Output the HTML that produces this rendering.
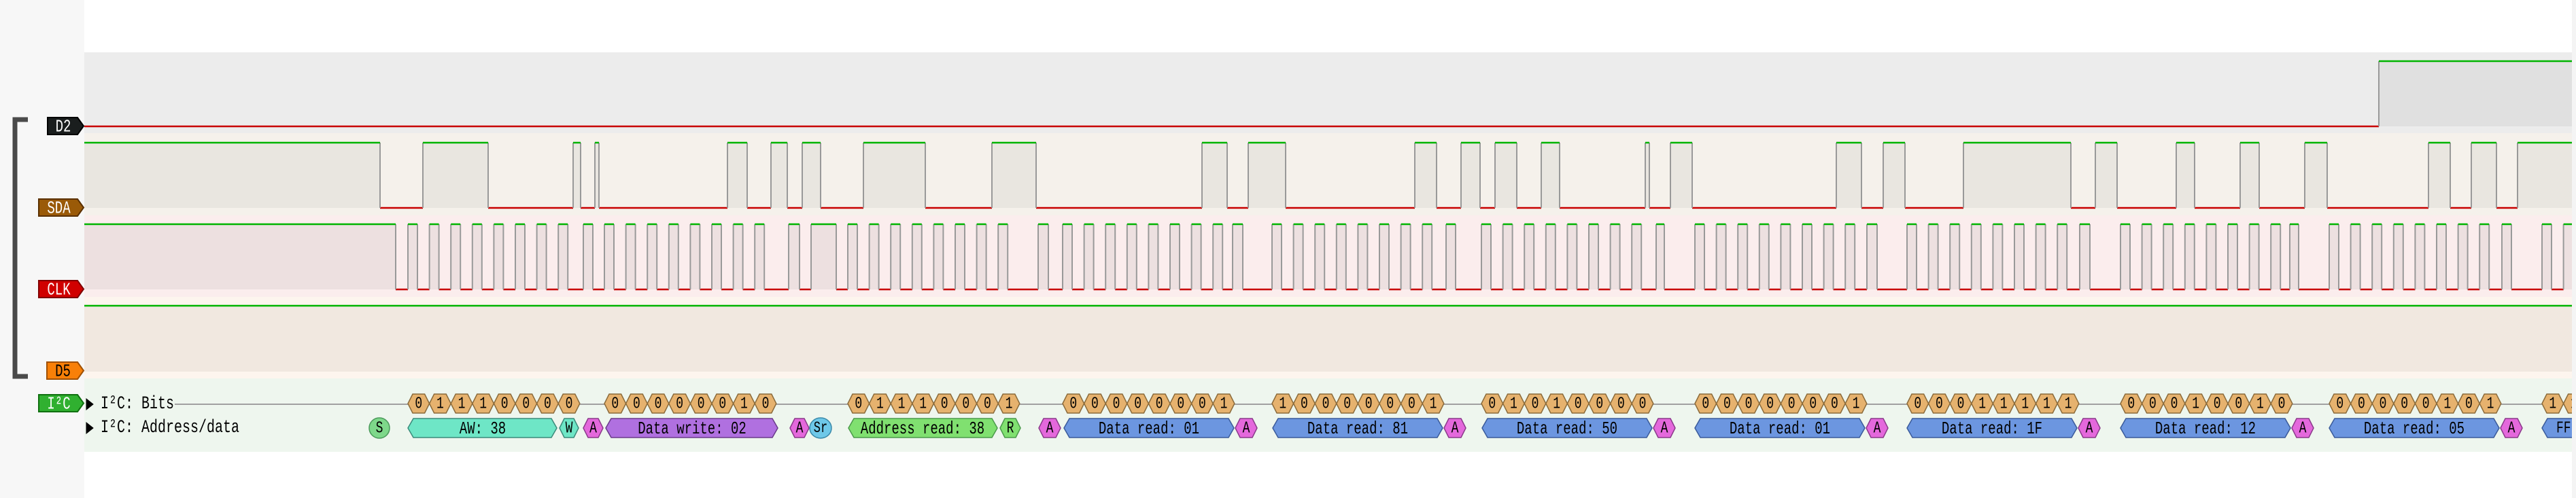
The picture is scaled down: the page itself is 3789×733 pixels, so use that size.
<!DOCTYPE html>
<html><head><meta charset="utf-8"><style>
html,body{margin:0;padding:0;background:#fff;}
svg{display:block;}
</style></head><body>
<div id="root"></div>
<script>
var W=3789,H=733,X0=124,X1=3783;
var s=[];
function r(x,y,w,h,f){s.push('<rect x="'+x+'" y="'+y+'" width="'+w+'" height="'+h+'" fill="'+f+'"/>');}
function ln(x1,y1,x2,y2,c,w){s.push('<line x1="'+x1+'" y1="'+y1+'" x2="'+x2+'" y2="'+y2+'" stroke="'+c+'" stroke-width="'+w+'"/>');}
function poly(p,f,st,sw){s.push('<polygon points="'+p.map(function(a){return a[0].toFixed(1)+','+a[1].toFixed(1)}).join(' ')+'" fill="'+f+'" stroke="'+st+'" stroke-width="'+(sw||1.5)+'"/>');}
var SY=1.35;
function txt(x,y,t,size,col,fam,anchor){s.push('<text transform="scale(1,'+SY+')" x="'+x+'" y="'+(y/SY).toFixed(2)+'" font-family="'+(fam||'Liberation Mono, monospace')+'" font-size="'+size+'" fill="'+col+'" text-anchor="'+(anchor||'middle')+'" dominant-baseline="central">'+t+'</text>');}
function hex(a,b,yc,h,d,f,st){poly([[a,yc],[a+d,yc-h/2],[b-d,yc-h/2],[b,yc],[b-d,yc+h/2],[a+d,yc+h/2]],f,st);}
function sig(highs,yH,yL,fill){
  highs=highs.map(function(h){return [Math.max(X0,h[0]),Math.min(X1,h[1])]}).filter(function(h){return h[1]>h[0]});
  highs.forEach(function(h){r(h[0],yH,h[1]-h[0],yL-yH,fill);});
  var x=X0;
  highs.forEach(function(h){ if(h[0]>x) ln(x,yL,h[0],yL,'#c80000',2.5); x=h[1];});
  if(x<X1) ln(x,yL,X1,yL,'#c80000',2.5);
  highs.forEach(function(h){ if(h[0]>X0) ln(h[0],yH,h[0],yL,'#999',2); if(h[1]<X1) ln(h[1],yH,h[1],yL,'#999',2); ln(h[0],yH,h[1],yH,'#00b400',2.5);});
}
r(0,0,W,H,'#fff');
r(0,0,X0,H,'#f7f7f7');
r(X0,77,X1-X0,119,'#ececec');
r(X0,196,X1-X0,121,'#f5f1eb');
r(X0,317,X1-X0,120,'#fbeded');
r(X0,437,X1-X0,120,'#fdf5ee');
r(X0,450,X1-X0,97,'#f1e8e0');
r(X0,557,X1-X0,108,'#eef6ee');
r(X1,0,W-X1,H,'#f4f4f4');
sig([[3499,3800]],90,186,'#e0e0e0');
ln(X0,450,X1,450,'#00b400',2.5);
sig([[0,559],[622,718],[843,854],[875,881],[1070,1099],[1134,1158],[1180,1207],[1270,1361],[1459,1524],[1768,1805],[1836,1891],[2081,2113],[2149,2177],[2199,2231],[2267,2294],[2420,2426],[2457,2489],[2701,2738],[2770,2802],[2888,3046],[3082,3114],[3201,3228],[3295,3323],[3390,3423],[3572,3604],[3635,3672],[3703,3800]],210,306,'#e9e6e0');
var P=31.6, bytes=[[600,[858,872]],[889,[1160,1176]],[1247,[1527,1542]],[1563,[1813,1828]],[1871,[2127,2141]],[2179,[2436,2448]],[2493,[2746,2761]],[2805,[3059,3074]],[3119,[3368,3381]],[3426,[3680,3694]],[3739,null]];
var cp=[[0,582],[1193,1230]];
bytes.forEach(function(b){for(var k=0;k<8;k++)cp.push([b[0]+k*P,b[0]+k*P+14]); if(b[1])cp.push(b[1]);});
cp.sort(function(a,b){return a[0]-b[0]});
sig(cp,330,426,'#ede0e0');
ln(257,595,X1,595,'#a0a0a0',2);
var bits=['01110000','00000010','01110001','00000001','10000001','01010000','00000001','00011111','00010010','00000101','11111111'];
bytes.forEach(function(b,i){for(var k=0;k<8;k++){var a=b[0]+k*P; if(a>X1)break; hex(a,a+P,594,28,7,'#e6b26e','#8a6a3a'); txt(a+P/2,595,bits[i][k],18,'#000');}});
function ack(a,b){hex(a,b,630,28,7,'#e468dc','#8a3a8a');txt((a+b)/2,631,'A',18,'#000');}
s.push('<ellipse cx="558" cy="630" rx="15" ry="15" fill="#7ed88a" stroke="#4a9a5a" stroke-width="1.5"/>');txt(558,631,'S',18,'#000');
hex(600,819,630,28,8,'#6ee6c6','#3a8a7a');txt(710,631,'AW: 38',19,'#000');
hex(823,851,630,28,7,'#6ee6c6','#3a8a7a');txt(837,631,'W',18,'#000');
ack(858,887);
hex(891,1144,630,28,8,'#b070e0','#6a3a8a');txt(1018,631,'Data write: 02',19,'#000');
ack(1162,1190);
s.push('<ellipse cx="1207" cy="630" rx="16" ry="15" fill="#6ec8e8" stroke="#3a8aaa" stroke-width="1.5"/>');txt(1207,631,'Sr',17,'#000');
hex(1248,1467,630,28,8,'#80e070','#4a9a4a');txt(1357,631,'Address read: 38',19,'#000');
hex(1471,1501,630,28,7,'#80e070','#4a9a4a');txt(1486,631,'R',18,'#000');
ack(1528,1560);
var reads=[[1565,'01'],[1872,'81'],[2180,'50'],[2493,'01'],[2805,'1F'],[3119,'12'],[3426,'05']];
reads.forEach(function(d){hex(d[0],d[0]+250,630,28,8,'#6c96e0','#3a5a9a');txt(d[0]+125,631,'Data read: '+d[1],19,'#000');ack(d[0]+252,d[0]+284);});
hex(3739,3830,630,28,8,'#6c96e0','#3a5a9a');txt(3760,631,'FF',18,'#000','Liberation Mono, monospace','start');
r(X1,560,W-X1,100,'#f4f4f4');
poly([[127,587],[137,595],[127,603]],'#000','#000',1);
poly([[127,622],[137,630],[127,638]],'#000','#000',1);
txt(148,595,'I²C: Bits',20,'#000','Liberation Mono, monospace','start');
txt(148,630,'I²C: Address/data',20,'#000','Liberation Mono, monospace','start');
function tag(x1,y1,y2,f,st,t,tc){var x2=123,yc=(y1+y2)/2;poly([[x1,y1],[x2-9,y1],[x2,yc],[x2-9,y2],[x1,y2]],f,st,2);txt((x1+x2-9)/2+1,yc+1,t,19,tc,'Liberation Mono, monospace');}
tag(70,173,198,'#1a1e1e','#000','D2','#fff');
tag(57,293,318,'#9a5a08','#5a3000','SDA','#fff');
tag(57,413,438,'#d00000','#800000','CLK','#fff');
tag(69,533,558,'#f88008','#a05000','D5','#000');
tag(57,581,606,'#30b030','#107010','I²C','#fff');
s.push('<path d="M41,176 L22,176 L22,554 L41,554" fill="none" stroke="#4a4a4a" stroke-width="7"/>');
document.getElementById('root').innerHTML='<svg xmlns="http://www.w3.org/2000/svg" width="'+W+'" height="'+H+'" viewBox="0 0 '+W+' '+H+'">'+s.join('')+'</svg>';
</script>
</body></html>
